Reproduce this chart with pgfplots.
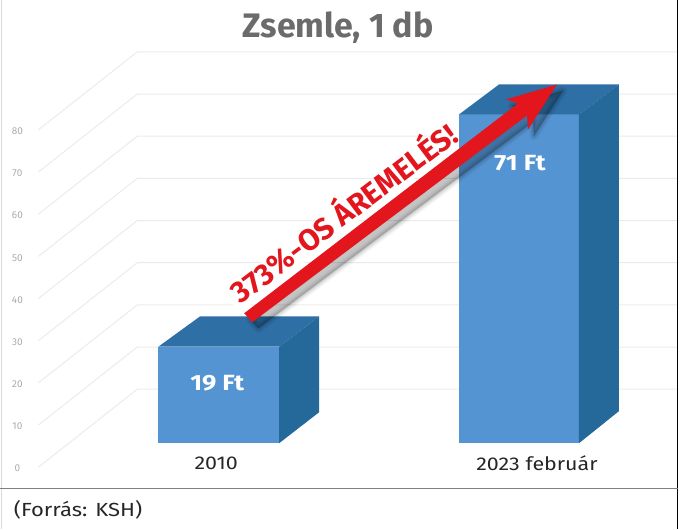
\documentclass[border=0pt]{standalone}
\usepackage{pgfplots}
\usepackage{fontspec}
\pgfplotsset{compat=1.18}
\setmainfont{Fira Sans}
\newfontfamily\widefont[FakeStretch=1.16]{Fira Sans}
\definecolor{frontc}{HTML}{5594D2}
\definecolor{topc}{HTML}{2E6FA5}
\definecolor{sidec}{HTML}{25689A}
\definecolor{gridc}{HTML}{EBEBEB}
\definecolor{arrowred}{HTML}{E3151D}
\definecolor{titlec}{HTML}{6B6B6B}
\begin{document}
\begin{tikzpicture}
\begin{axis}[
  at={(0,0)}, anchor=south west,
  scale only axis, width=685pt, height=529pt,
  xmin=0, xmax=685, ymin=-33.175, ymax=92.18,
  clip=false,
  axis line style={draw=none},
  major tick length=0pt,
  xtick={216,537}, xticklabels={2010,2023 február},
  ytick={0,10,20,30,40,50,60,70,80},
  /pgf/number format/assume math mode=true,
  xticklabel style={anchor=center, yshift=66pt, font=\widefont\fontsize{18.5}{20}\selectfont, text=black!85},
  yticklabel style={anchor=center, xshift=17pt, yshift=-79.5pt, font=\fontsize{10}{11}\selectfont, text=black!33},
]
% gridlines
\addplot[gridc, line width=1pt] coordinates {(38,-18.5) (137,0) (678,0)};
\addplot[gridc, line width=1pt] coordinates {(38,-8.5) (137,10) (678,10)};
\addplot[gridc, line width=1pt] coordinates {(38,1.5) (137,20) (678,20)};
\addplot[gridc, line width=1pt] coordinates {(38,11.5) (137,30) (678,30)};
\addplot[gridc, line width=1pt] coordinates {(38,21.5) (137,40) (678,40)};
\addplot[gridc, line width=1pt] coordinates {(38,31.5) (137,50) (678,50)};
\addplot[gridc, line width=1pt] coordinates {(38,41.5) (137,60) (678,60)};
\addplot[gridc, line width=1pt] coordinates {(38,51.5) (137,70) (678,70)};
\addplot[gridc, line width=1pt] coordinates {(38,61.5) (137,80) (678,80)};
% frame
\addplot[black!15, line width=1pt] coordinates {(1,92.18) (1,-33.175)};
\addplot[black, line width=1pt] coordinates {(678,92.18) (678,-33.175)};
\addplot[black!50, line width=0.8pt] coordinates {(0,-23.46) (678,-23.46)};
% white band behind the label
\addplot[fill=white, draw=none] coordinates {(222,23.0) (455,64.2) (466,59.5) (240,18.25)} --cycle;
% bar 2010
\addplot[fill=frontc, draw=none] coordinates {(158,10.07) (279,10.07) (279,-12.8) (158,-12.8)} --cycle;
\addplot[fill=topc, draw=none] coordinates {(158,10.07) (200,17.3) (319,17.3) (279,10.07)} --cycle;
\addplot[fill=sidec, draw=none] coordinates {(279,10.07) (319,17.3) (319,-5.45) (279,-12.8)} --cycle;
% bar 2023
\addplot[fill=frontc, draw=none] coordinates {(459,65.17) (579,65.17) (579,-12.8) (459,-12.8)} --cycle;
\addplot[fill=topc, draw=none] coordinates {(459,65.17) (499,72.27) (619,72.27) (579,65.17)} --cycle;
\addplot[fill=sidec, draw=none] coordinates {(579,65.17) (619,72.27) (619,-5.21) (579,-12.8)} --cycle;
% arrow shadow
\addplot[fill=black, fill opacity=0.05, draw=black, draw opacity=0.04, line width=9pt, line join=round] coordinates {(250,16.6) (258,14.4) (533,63.4) (534,60.1) (563,70.8) (512,67.2) (524,66.3)} --cycle;
\addplot[fill=black, fill opacity=0.08, draw=black, draw opacity=0.06, line width=6pt, line join=round] coordinates {(250,16.6) (258,14.4) (533,63.4) (534,60.1) (563,70.8) (512,67.2) (524,66.3)} --cycle;
\addplot[fill=black, fill opacity=0.12, draw=black, draw opacity=0.08, line width=3pt, line join=round] coordinates {(250,16.6) (258,14.4) (533,63.4) (534,60.1) (563,70.8) (512,67.2) (524,66.3)} --cycle;
% arrow
\addplot[fill=arrowred, draw=none] coordinates {(244,18.01) (252,15.88) (527,64.93) (528,61.61) (557,72.27) (506,68.72) (518,67.77)} --cycle;
% texts
\node[font=\fontsize{34}{36}\selectfont\bfseries, text=titlec] at (axis cs:338,85.8) {Zsemle, 1 db};
\node[font=\widefont\fontsize{22}{24}\selectfont\bfseries, text=white] at (axis cs:217,1.4) {19 Ft};
\node[font=\widefont\fontsize{22}{24}\selectfont\bfseries, text=white] at (axis cs:520,53.6) {71 Ft};
\node[font=\fontsize{30}{32}\selectfont\bfseries, text=arrowred, rotate=37] at (axis cs:342,42.2) {373\%-OS ÁREMELÉS!};
\node[font=\widefont\fontsize{19}{21}\selectfont, text=black!85, anchor=west] at (axis cs:10,-28.7) {(Forrás: KSH)};
\end{axis}
\path (0,0) rectangle (685pt,529pt);
\end{tikzpicture}
\end{document}
